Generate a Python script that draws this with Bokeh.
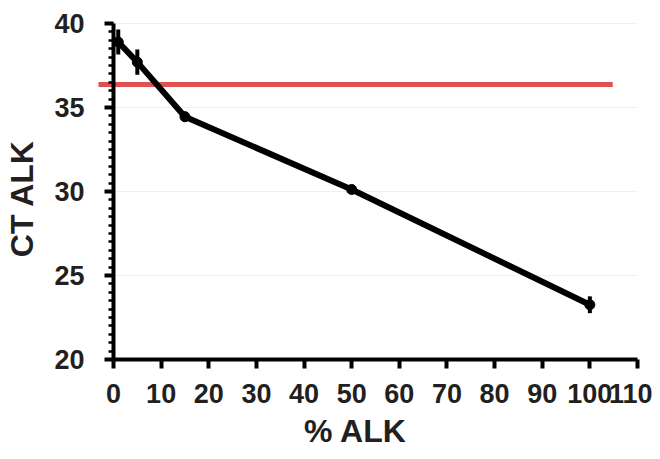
import math
from bokeh.plotting import figure
from bokeh.models import FixedTicker, LinearAxis, Label
from bokeh.embed import file_html
from bokeh.resources import INLINE

# data
pct_alk = [1, 5, 15, 50, 100]
ct_alk = [38.9, 37.7, 34.45, 30.12, 23.26]
ct_err = [0.75, 0.75, 0.3, 0.2, 0.5]
threshold = 36.37
threshold_x = [-3.15, 104.8]
x_ticks = [0, 10, 20, 30, 40, 50, 60, 70, 80, 90, 100, 110]
y_ticks = [20, 25, 30, 35, 40]
y_minor = [20 + 0.5 * i for i in range(41)]
x_bounds = (0, 110)
y_bounds = (20, 40)

TXT = "#231f20"
FONT = "Liberation Sans"

# frame fills the whole canvas; axes are pinned at x=0 / y=20
p = figure(width=652, height=451, x_range=(-23.72, 113.15), y_range=(14.524, 41.369),
           output_backend="svg", toolbar_location=None,
           x_axis_location=None, y_axis_location=None,
           min_border_left=0, min_border_right=0, min_border_top=0, min_border_bottom=0)
p.outline_line_color = None
p.background_fill_color = "white"
p.border_fill_color = "white"
p.xgrid.visible = False
p.ygrid.visible = False

# horizontal gridlines at major y ticks
p.segment(x0=[x_bounds[0]] * len(y_ticks), y0=y_ticks,
          x1=[x_bounds[1]] * len(y_ticks), y1=y_ticks,
          line_color="#f0f0f0", line_width=1)

# red threshold line
p.line(threshold_x, [threshold, threshold], line_color="#e05252", line_width=5)

# data line, error bars, markers
p.line(pct_alk, ct_alk, line_color="black", line_width=6)
lo = [v - e for v, e in zip(ct_alk, ct_err)]
hi = [v + e for v, e in zip(ct_alk, ct_err)]
p.segment(x0=pct_alk, y0=lo, x1=pct_alk, y1=hi, line_color="black", line_width=4)
p.scatter(pct_alk, ct_alk, size=10, color="black")

# x axis
xa = LinearAxis(ticker=FixedTicker(ticks=x_ticks), fixed_location=y_bounds[0], bounds=x_bounds)
xa.axis_line_width = 4
xa.axis_line_color = "black"
xa.major_tick_line_width = 4
xa.major_tick_in = 0
xa.major_tick_out = 9
xa.minor_tick_line_color = None
xa.major_label_standoff = 15
xa.major_label_text_font = FONT
xa.major_label_text_font_style = "bold"
xa.major_label_text_font_size = "27px"
xa.major_label_text_color = TXT
p.add_layout(xa, "below")

# y axis
ya = LinearAxis(ticker=FixedTicker(ticks=y_ticks, minor_ticks=y_minor),
                fixed_location=x_bounds[0], bounds=y_bounds)
ya.axis_line_width = 4
ya.axis_line_color = "black"
ya.major_tick_line_width = 4
ya.major_tick_in = 0
ya.major_tick_out = 9
ya.minor_tick_line_width = 2.5
ya.minor_tick_in = 0
ya.minor_tick_out = 5
ya.major_label_standoff = 20
ya.major_label_text_font = FONT
ya.major_label_text_font_style = "bold"
ya.major_label_text_font_size = "27px"
ya.major_label_text_color = TXT
p.add_layout(ya, "left")

# axis titles
p.add_layout(Label(x=50.8, y=15.72, text="% ALK",
                   text_font=FONT, text_font_style="bold", text_font_size="32px",
                   text_color=TXT, text_align="center", text_baseline="alphabetic"))
p.add_layout(Label(x=-19.3, y=29.58, text="CT ALK", angle=math.pi / 2,
                   text_font=FONT, text_font_style="bold", text_font_size="32px",
                   text_color=TXT, text_align="center", text_baseline="alphabetic"))

open("out.html", "w").write(file_html(p, INLINE))
